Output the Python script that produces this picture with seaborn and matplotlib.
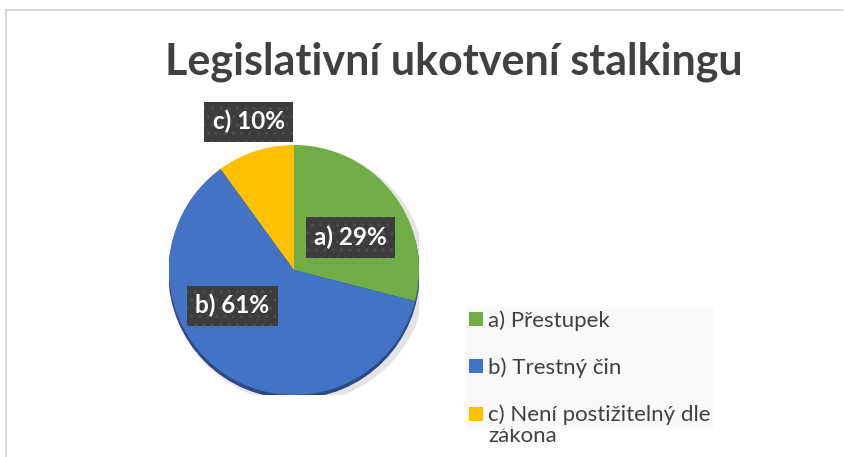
import matplotlib
matplotlib.use("Agg")
import matplotlib.pyplot as plt
import seaborn as sns
import numpy as np
from matplotlib.lines import Line2D
from matplotlib.patches import Circle

# data
categories = ["a) Přestupek", "b) Trestný čin", "c) Není postižitelný dle zákona"]
short_labels = ["a)", "b)", "c)"]
shares = [29, 61, 10]
title = "Legislativní ukotvení stalkingu"

sns.set_theme(style="white")
plt.rcParams["font.family"] = ["Lato", "DejaVu Sans"]

colors = sns.color_palette(["#70AD47", "#4472C4", "#FFC000"])
text_col = "#404040"

W, H = 845, 457
fig = plt.figure(figsize=(W / 100, H / 100), dpi=100)

# outer frame lines (top + left like the cropped Excel chart)
fig.add_artist(Line2D([6 / W, 6 / W], [0, 1 - 10 / H], color="#D0D0D0", lw=1.2))
fig.add_artist(Line2D([6 / W, 843 / W], [1 - 10 / H, 1 - 10 / H], color="#D0D0D0", lw=1.2))

fig.text(454 / W, 1 - 62 / H, title, ha="center", va="center",
         fontsize=31, fontweight="bold", color=text_col)

# pie axes: centre (294, 270) px, radius 125 px
cx, cy, r = 294, 270, 125
ax = fig.add_axes([(cx - r) / W, 1 - (cy + r) / H, 2 * r / W, 2 * r / H])

# soft shadow and dark rim underneath
ax.add_patch(Circle((0.03, -0.04), 1.02, color="#E4E4E4", zorder=0))
ax.add_patch(Circle((0.0, -0.025), 1.0, color="#2B4A85", zorder=0.5))

wedges, _ = ax.pie(shares, colors=colors, startangle=90, counterclock=False,
                   wedgeprops=dict(linewidth=0))
for w in wedges:
    w.set_zorder(1)
ax.set_xlim(-1, 1)
ax.set_ylim(-1, 1)
ax.set_aspect("equal")
ax.axis("off")

# data label placement (angle deg, radius) like Excel best fit
label_pos = [(30, 0.52), (210, 0.57), (107, 1.24)]
for lab, val, (ang, rad) in zip(short_labels, shares, label_pos):
    t = np.deg2rad(ang)
    ax.text(rad * np.cos(t), rad * np.sin(t), f"{lab} {val}%", ha="center", va="center",
            fontsize=17.5, fontweight="bold", color="white", zorder=5, clip_on=False,
            bbox=dict(boxstyle="square,pad=0.34", facecolor="#3C3C3C",
                      edgecolor="#4E4E4E", hatch="..", linewidth=0))

# legend (last label wraps onto a second line like in Excel)
leg_labels = [categories[0], categories[1], "c) Není postižitelný dle"]
leg = fig.legend(wedges, leg_labels, loc="upper left",
                 bbox_to_anchor=(466 / W, 1 - 307 / H), frameon=True,
                 fontsize=16, labelcolor=text_col, handlelength=0.6, handleheight=0.6,
                 handletextpad=0.25, labelspacing=1.2, borderpad=0.15, borderaxespad=0,
                 fancybox=False)
leg.get_frame().set_facecolor("#F8F8F8")
leg.get_frame().set_edgecolor("none")
fig.canvas.draw()
bb = leg.texts[2].get_window_extent()
fig.text(bb.x0 / W, (bb.y0 - 1) / H, "zákona", fontsize=16, color=text_col,
         ha="left", va="top")

fig.savefig("out.png", dpi=100)
